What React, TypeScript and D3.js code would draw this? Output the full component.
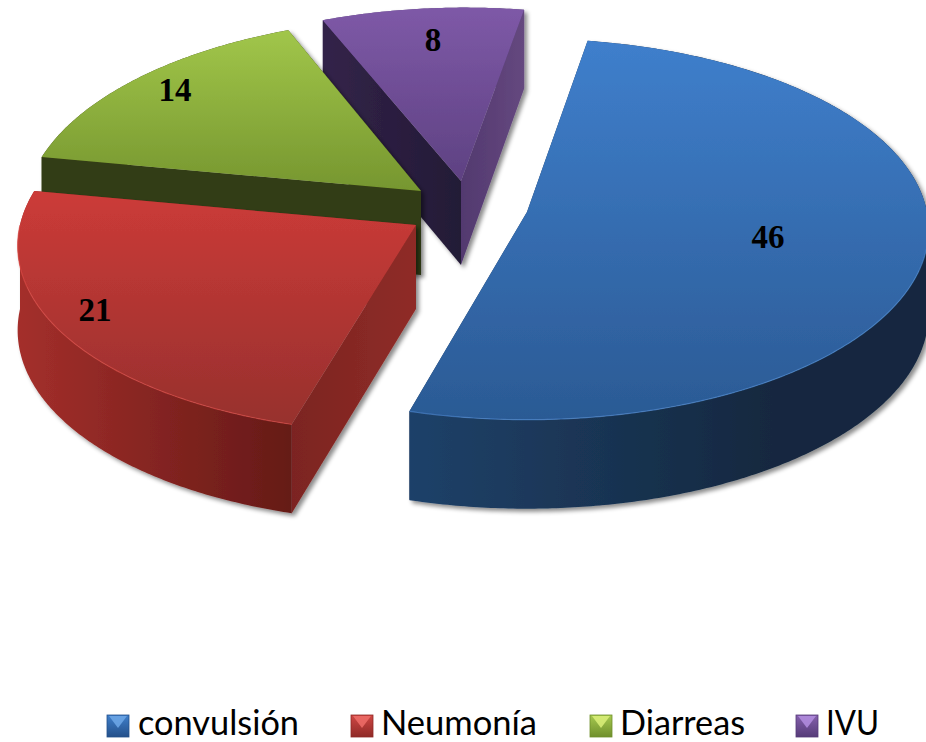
import React from "react";
import * as d3 from "d3";

// Cases per diagnosis
const categories = ["convulsión", "Neumonía", "Diarreas", "IVU"];
const counts = [46, 21, 14, 8];

// Tilted-disc layout: each exploded slice has its own apex and a slight convergence
const RX = 400;
const RY = 189;
const PERSPECTIVE = 0.09;
const ROTATION = (9.5 * Math.PI) / 180;
const apexes: [number, number][] = [[527, 212], [416, 225], [421, 191], [461, 181]];
const shears = [0, -0.04, -0.055, -0.02];
const widthScales = [1, 0.99, 0.985, 0.985];
const labelCenters: [number, number][] = [[768, 237], [95, 310], [175, 90], [433, 40]];
const drawOrder = [3, 2, 1, 0];

// Fill ramps per slice
const topRamps = [["#3f7fcc", "#2b5a94"], ["#cc3b38", "#97302d"], ["#a1c64a", "#76962f"], ["#7e59a7", "#5e4182"]];
const wallRamps = [["#1f4169", "#14283f"], ["#a42f2b", "#651a17"], ["#3c4716", "#333c14"], ["#634683", "#574078"]];
const startCutRamps = [["#1c3a5e", "#1c3a5e"], ["#7c2420", "#8f2c28"], ["#333c14", "#333c14"], ["#332349", "#231a36"]];
const endCutRamps = [["#1c3a5e", "#1c3a5e"], ["#7a2420", "#7a2420"], ["#333c14", "#333c14"], ["#52396f", "#65487f"]];
const rimColors = ["#4f8cd6", "#e04c47", "#b4d65f", "#8e68b8"];

// Legend layout
const legendSwatchX = [107, 351, 590, 796];
const legendTextX = [138, 381, 620, 826];
const legendTextWidth = [161, 156, 125, 53];
const legendBaseline = 735;
const swatchFills = [["#3f7fcb", "#24508a"], ["#cf4744", "#8f2a27"], ["#a6c94f", "#6f8f2c"], ["#8560ad", "#563b78"]];
const swatchGlows = ["#6fa8e8", "#ee6d68", "#dcf07a", "#b48ee0"];

const slices = d3
  .pie<number>()
  .sort(null)
  .value((d) => d)
  .startAngle(ROTATION)
  .endAngle(ROTATION + 2 * Math.PI)(counts);

const project = (theta: number, i: number): [number, number] => {
  const depthScale = 1 / (1 + PERSPECTIVE * Math.cos(theta));
  const y = -RY * Math.cos(theta) * depthScale;
  return [(RX * Math.sin(theta) * depthScale + shears[i] * y) * widthScales[i], y];
};
const wallDepth = (theta: number) => 84 - 5 * Math.cos(theta);
const path = d3.line();

const arcAngles = (a: number, b: number) => {
  const n = Math.max(2, Math.ceil((b - a) / 0.01));
  return d3.range(n + 1).map((i) => a + ((b - a) * i) / n);
};

function arcOutline(i: number, a: number, b: number) {
  return arcAngles(a, b).map((t): [number, number] => {
    const [x, y] = project(t, i);
    return [apexes[i][0] + x, apexes[i][1] + y];
  });
}

function wallPath(i: number, a: number, b: number) {
  const angles = arcAngles(a, b);
  const upper = arcOutline(i, a, b);
  const lower = upper.map(([x, y], k): [number, number] => [x, y + wallDepth(angles[k])]).reverse();
  return path([...upper, ...lower]) + "Z";
}

function cutPath(i: number, t: number) {
  const apex = apexes[i];
  const [x, y] = project(t, i);
  return (
    path([
      apex,
      [apex[0] + x, apex[1] + y],
      [apex[0] + x, apex[1] + y + wallDepth(t)],
      [apex[0], apex[1] + 84],
    ]) + "Z"
  );
}

export default function App() {
  return (
    <svg
      width={926}
      height={742}
      style={{ position: "absolute", left: 0, top: 0, display: "block", background: "#fff" }}
    >
      <defs>
        <filter id="sliceShadow" x="-10%" y="-10%" width="120%" height="120%">
          <feDropShadow dx="3" dy="3" stdDeviation="2.2" floodColor="#000" floodOpacity="0.45" />
        </filter>
        {categories.map((_, i) => {
          const pts = arcOutline(i, slices[i].startAngle, slices[i].endAngle);
          const xs = d3.extent(pts, (p) => p[0]) as [number, number];
          const ys = d3.extent([...pts, apexes[i]], (p) => p[1]) as [number, number];
          return (
            <React.Fragment key={i}>
              <linearGradient id={`top${i}`} gradientUnits="userSpaceOnUse" x1="0" x2="0" y1={ys[0]} y2={ys[1]}>
                <stop offset="0" stopColor={topRamps[i][0]} />
                <stop offset="1" stopColor={topRamps[i][1]} />
              </linearGradient>
              <linearGradient id={`wall${i}`} gradientUnits="userSpaceOnUse" x1={xs[0]} x2={xs[0] + (xs[1] - xs[0]) * (i === 0 ? 0.7 : 1)} y1="0" y2="0">
                <stop offset="0" stopColor={wallRamps[i][0]} />
                <stop offset="1" stopColor={wallRamps[i][1]} />
              </linearGradient>
              <linearGradient id={`cutA${i}`} x1="0" x2="1" y1="0" y2="0">
                <stop offset="0" stopColor={startCutRamps[i][0]} />
                <stop offset="1" stopColor={startCutRamps[i][1]} />
              </linearGradient>
              <linearGradient id={`cutB${i}`} x1="0" x2="1" y1="0" y2="0">
                <stop offset="0" stopColor={endCutRamps[i][0]} />
                <stop offset="1" stopColor={endCutRamps[i][1]} />
              </linearGradient>
              <linearGradient id={`sw${i}`} x1="0" x2="0" y1="0" y2="1">
                <stop offset="0" stopColor={swatchFills[i][0]} />
                <stop offset="1" stopColor={swatchFills[i][1]} />
              </linearGradient>
            </React.Fragment>
          );
        })}
      </defs>

      {drawOrder.map((i) => {
        const apex = apexes[i];
        const a = slices[i].startAngle;
        const b = slices[i].endAngle;
        // Split the outer wall at the disc's widest points so the back stays behind the cut faces.
        const right = Math.PI / 2;
        const left = (3 * Math.PI) / 2;
        const frontA = Math.max(a, right);
        const frontB = Math.min(b, left);
        const hasFront = frontB > frontA;
        const backSpans: [number, number][] = [];
        if (a < right) backSpans.push([a, Math.min(b, right)]);
        if (b > left) backSpans.push([Math.max(a, left), b]);
        const outline = arcOutline(i, a, b);
        return (
          <g key={i} filter="url(#sliceShadow)">
            {backSpans.map(([s, e], k) => (
              <path key={k} d={wallPath(i, s, e)} fill={`url(#wall${i})`} />
            ))}
            <path d={cutPath(i, b)} fill={`url(#cutB${i})`} />
            <path d={cutPath(i, a)} fill={`url(#cutA${i})`} />
            {hasFront && <path d={wallPath(i, frontA, frontB)} fill={`url(#wall${i})`} />}
            <path d={path([apex, ...outline]) + "Z"} fill={`url(#top${i})`} />
            {hasFront && (
              <path
                d={path(arcOutline(i, frontA, frontB)) as string}
                fill="none"
                stroke={rimColors[i]}
                strokeWidth={1.2}
                strokeOpacity={0.6}
              />
            )}
          </g>
        );
      })}

      {counts.map((v, i) => (
        <text
          key={i}
          x={labelCenters[i][0]}
          y={labelCenters[i][1] + 11}
          textAnchor="middle"
          fontFamily="'Liberation Serif', serif"
          fontWeight="bold"
          fontSize={33}
          fill="#000"
        >
          {v}
        </text>
      ))}

      {categories.map((c, i) => {
        const x = legendSwatchX[i];
        const y = 715;
        const s = 22;
        return (
          <g key={c}>
            <rect x={x} y={y} width={s} height={s} fill={`url(#sw${i})`} stroke={swatchFills[i][1]} strokeWidth={0.8} />
            <path
              d={path([[x + 2, y + 1], [x + s - 2, y + 1], [x + s / 2, y + s / 2 + 2]]) + "Z"}
              fill={swatchGlows[i]}
              fillOpacity={0.85}
            />
            <text
              x={legendTextX[i]}
              y={legendBaseline}
              fontFamily="Lato, 'Open Sans', sans-serif"
              fontSize={34}
              fill="#000"
              textLength={legendTextWidth[i]}
              lengthAdjust="spacingAndGlyphs"
            >
              {c}
            </text>
          </g>
        );
      })}
    </svg>
  );
}
